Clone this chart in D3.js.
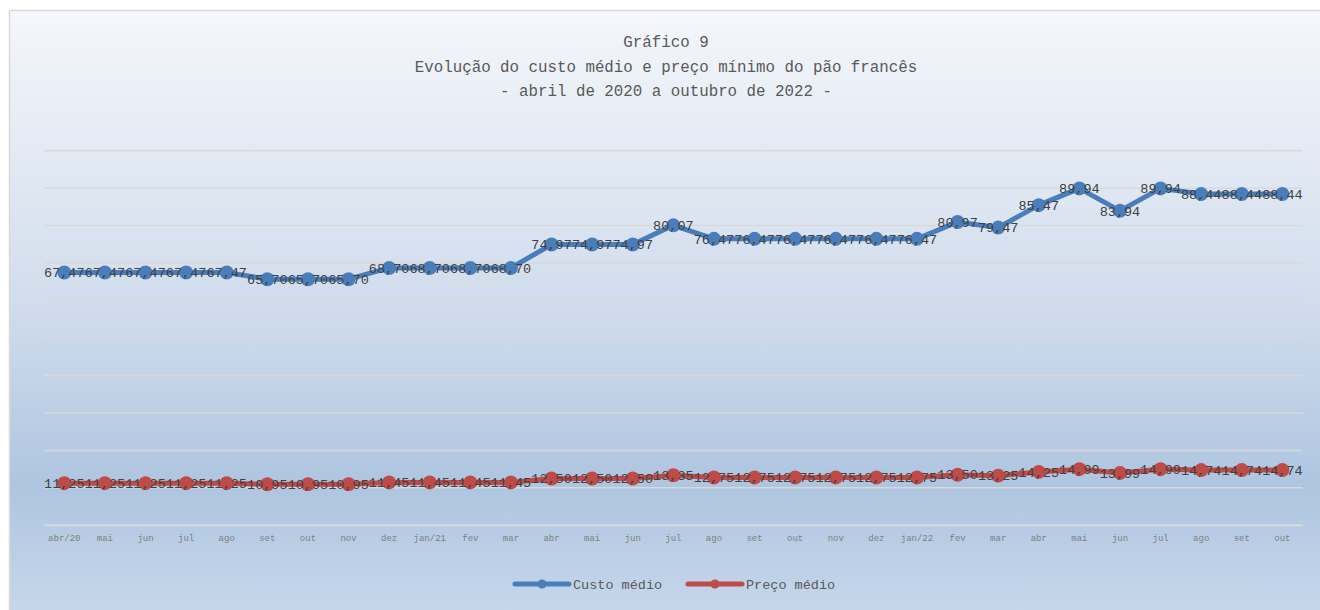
<!DOCTYPE html>
<html><head><meta charset="utf-8">
<script src="https://cdn.jsdelivr.net/npm/d3@7"></script>
<style>
html,body{margin:0;padding:0;background:#fff;}
svg{display:block;}
</style></head>
<body>
<svg id="chart" width="1320" height="610"></svg>
<script>
const months = ["abr/20","mai","jun","jul","ago","set","out","nov","dez","jan/21","fev","mar","abr","mai","jun","jul","ago","set","out","nov","dez","jan/22","fev","mar","abr","mai","jun","jul","ago","set","out"];
const custoMedio = [67.47,67.47,67.47,67.47,67.47,65.70,65.70,65.70,68.70,68.70,68.70,68.70,74.97,74.97,74.97,80.07,76.47,76.47,76.47,76.47,76.47,76.47,80.97,79.47,85.47,89.94,83.94,89.94,88.44,88.44,88.44];
const precoMedio = [11.25,11.25,11.25,11.25,11.25,10.95,10.95,10.95,11.45,11.45,11.45,11.45,12.50,12.50,12.50,13.35,12.75,12.75,12.75,12.75,12.75,12.75,13.50,13.25,14.25,14.99,13.99,14.99,14.74,14.74,14.74];
const yTicks = [0,10,20,30,40,50,60,70,80,90,100];
const titleLines = ["Gráfico 9","Evolução do custo médio e preço mínimo do pão francês","- abril de 2020 a outubro de 2022 -"];
const seriesNames = ["Custo médio","Preço médio"];

(function(){
const svg = d3.select("#chart");
const W = 1320, H = 610;
const FONT = "'Liberation Mono','DejaVu Sans Mono',monospace";

const defs = svg.append("defs");
const grad = defs.append("linearGradient").attr("id","bg").attr("x1",0).attr("y1",0).attr("x2",0).attr("y2",1);
[[0,"#f4f7fb"],[0.25,"#e2e9f3"],[0.5,"#cfdbec"],[0.78,"#aec5e0"],[1,"#c8d8eb"]].forEach(([o,c])=>grad.append("stop").attr("offset",o).attr("stop-color",c));

svg.append("rect").attr("x",9.5).attr("y",10.5).attr("width",W).attr("height",H).attr("fill","url(#bg)").attr("stroke","#d9d9d9").attr("stroke-width",1.5);

const pLeft = 44, pRight = 1302.7, pTop = 150.7, pBottom = 525.3;
const x = d3.scaleBand().domain(d3.range(months.length)).range([pLeft,pRight]);
const y = d3.scaleLinear().domain([0,100]).range([pBottom,pTop]);
const cx = i => x(i) + x.bandwidth()/2;

svg.append("g").selectAll("line").data(yTicks).join("line")
  .attr("x1",pLeft).attr("x2",pRight).attr("y1",d=>y(d)).attr("y2",d=>y(d))
  .attr("stroke","#d9d9d9").attr("stroke-width",d=>d===0?2:1.5);

const xAxis = d3.axisBottom(x).tickFormat(i=>months[i]).tickSize(0).tickPadding(9);
const gx = svg.append("g").attr("transform",`translate(0,${pBottom})`).call(xAxis);
gx.select(".domain").remove();
gx.selectAll("text").attr("font-family",FONT).attr("font-size","9px").attr("fill","#7f7f7f");

const t = svg.append("text").attr("text-anchor","middle").attr("font-family",FONT).attr("font-size","15.8px").attr("fill","#595959");
titleLines.forEach((l,i)=>t.append("tspan").attr("x",666).attr("y",47+i*24.5).text(l));

const series = [
  {name:seriesNames[0], values:custoMedio, color:"#4a7ebb"},
  {name:seriesNames[1], values:precoMedio, color:"#be4b48"}
];
const line = d3.line().x((d,i)=>cx(i)).y(d=>y(d));
const fmt = v => v.toFixed(2).replace(".",",");

series.forEach(s=>{
  svg.append("path").datum(s.values).attr("d",line).attr("fill","none")
    .attr("stroke",s.color).attr("stroke-width",5).attr("stroke-linejoin","round").attr("stroke-linecap","round");
  svg.append("g").selectAll("circle").data(s.values).join("circle")
    .attr("cx",(d,i)=>cx(i)).attr("cy",d=>y(d)).attr("r",7).attr("fill",s.color);
});
series.forEach(s=>{
  svg.append("g").selectAll("text").data(s.values).join("text")
    .attr("x",(d,i)=>cx(i)).attr("y",d=>y(d)).attr("dy","0.35em")
    .attr("text-anchor","middle").attr("font-family",FONT).attr("font-size","13.5px").attr("fill","#404040")
    .text(d=>fmt(d));
});

const lg = svg.append("g");
const legendX = [515, 688];
series.forEach((s,i)=>{
  const g = lg.append("g").attr("transform",`translate(${legendX[i]},584)`);
  g.append("line").attr("x1",0).attr("x2",54).attr("y1",0).attr("y2",0).attr("stroke",s.color).attr("stroke-width",5).attr("stroke-linecap","round");
  g.append("circle").attr("cx",27).attr("cy",0).attr("r",4.5).attr("fill",s.color);
  g.append("text").attr("x",58).attr("y",0).attr("dy","0.35em").attr("font-family",FONT).attr("font-size","13.5px").attr("fill","#595959").text(s.name);
});
})();
</script>
</body></html>
